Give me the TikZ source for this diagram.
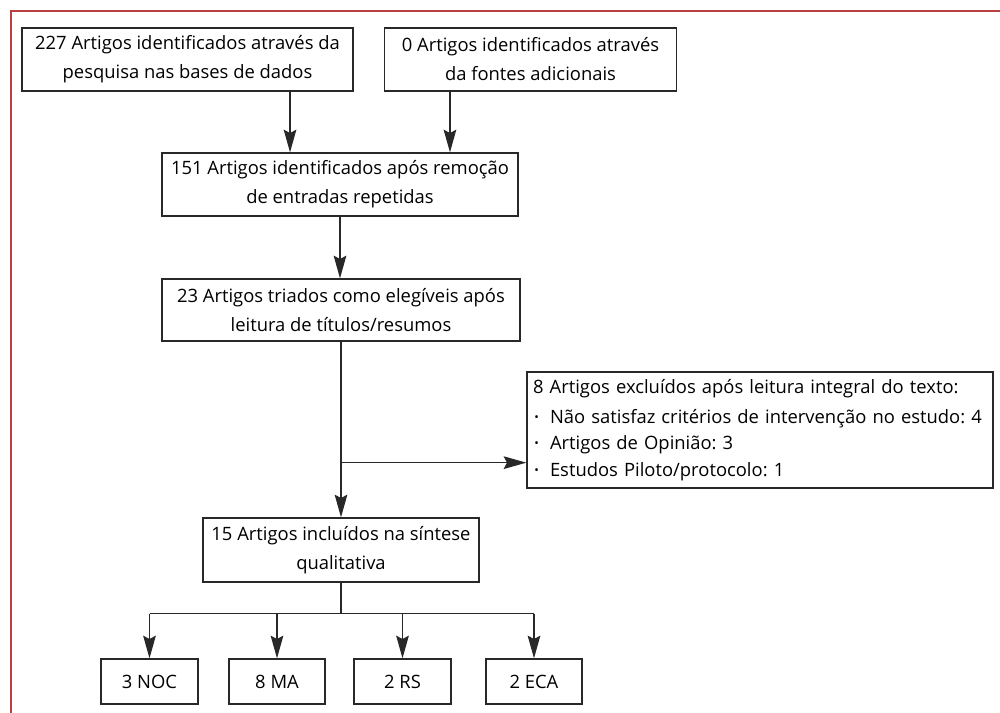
\documentclass[tikz,border=0pt]{standalone}
\usepackage{fontspec}
\setmainfont{Open Sans}
\usetikzlibrary{arrows.meta}

\newcommand{\itemdot}{\makebox[12.75pt][l]{\hspace{1pt}\raisebox{0.2ex}{\small •}}}
\frenchspacing

\begin{document}
\begin{tikzpicture}[x=0.75pt, y=-0.75pt, font=\fontsize{13.8}{21.75}\selectfont]
  \definecolor{framered}{RGB}{184,64,64}
  \definecolor{boxline}{RGB}{40,40,40}

  \tikzset{
    flow box/.style={draw=boxline, line width=1pt, align=center, inner sep=0pt},
    flow line/.style={draw=boxline, line width=1pt},
    flow arrow/.style={flow line, -{Stealth[length=17pt, width=9.5pt, inset=2.5pt]}},
  }

  \useasboundingbox (0,0) rectangle (1000,713);
  \draw[framered, line width=1.5pt] (11,713) -- (11,11) -- (1000,11);

  % identification
  \node[flow box, minimum width=248.25pt, minimum height=47.25pt] (ident) at (187.5,59.5)
    {227 Artigos identificados através da\\pesquisa nas bases de dados};
  \node[flow box, minimum width=218.6pt, minimum height=47.25pt] (fontes) at (530.5,59.5)
    {0 Artigos identificados através\\da fontes adicionais};
  \node[flow box, minimum width=267pt, minimum height=47.25pt] (dedup) at (340,184.5)
    {151 Artigos identificados após remoção\\de entradas repetidas};
  \node[flow box, minimum width=268.5pt, minimum height=46.5pt] (triados) at (341,310)
    {23 Artigos triados como elegíveis após\\leitura de títulos/resumos};
  \node[flow box, align=left, text width=340.5pt, inner xsep=4.5pt, minimum height=87pt,
        font=\fontsize{13.8}{20}\selectfont] (excl) at (760,430)
    {8 Artigos excluídos após leitura integral do texto:\\[2.5pt]
     \itemdot Não satisfaz critérios de intervenção no estudo: 4\\
     \itemdot Artigos de Opinião: 3\\
     \itemdot Estudos Piloto/protocolo: 1};
  \node[flow box, minimum width=207pt, minimum height=48pt] (incl) at (341,550)
    {15 Artigos incluídos na síntese\\qualitativa};

  % study types
  \node[flow box, minimum width=72.75pt, minimum height=33.75pt] (noc) at (149.5,681.5) {3 NOC};
  \node[flow box, minimum width=72pt, minimum height=33.75pt] (ma) at (277,681.5) {8 MA};
  \node[flow box, minimum width=72.75pt, minimum height=33.75pt] (rs) at (402.5,681.5) {2 RS};
  \node[flow box, minimum width=72pt, minimum height=33.75pt] (eca) at (534,681.5) {2 ECA};

  \draw[flow arrow] ([xshift=76.9pt]ident.south) -- ([xshift=76.9pt]ident.south |- dedup.north);
  \draw[flow arrow] ([xshift=-60.4pt]fontes.south) -- ([xshift=-60.4pt]fontes.south |- dedup.north);
  \draw[flow arrow] (dedup.south) -- (dedup.south |- triados.north);

  \coordinate (branch) at ([yshift=-90.75pt]triados.south);
  \draw[flow arrow] (triados.south) -- (incl.north);
  \draw[flow arrow] (branch) -- (branch -| excl.west);

  \coordinate (split) at ([yshift=-23.25pt]incl.south);
  \draw[flow line] (incl.south) -- (split);
  \draw[flow line] (split -| noc.north) -- (split -| eca.north);
  \foreach \b in {noc,ma,rs,eca}
    \draw[flow arrow] (split -| \b.north) -- (\b.north);
\end{tikzpicture}
\end{document}
